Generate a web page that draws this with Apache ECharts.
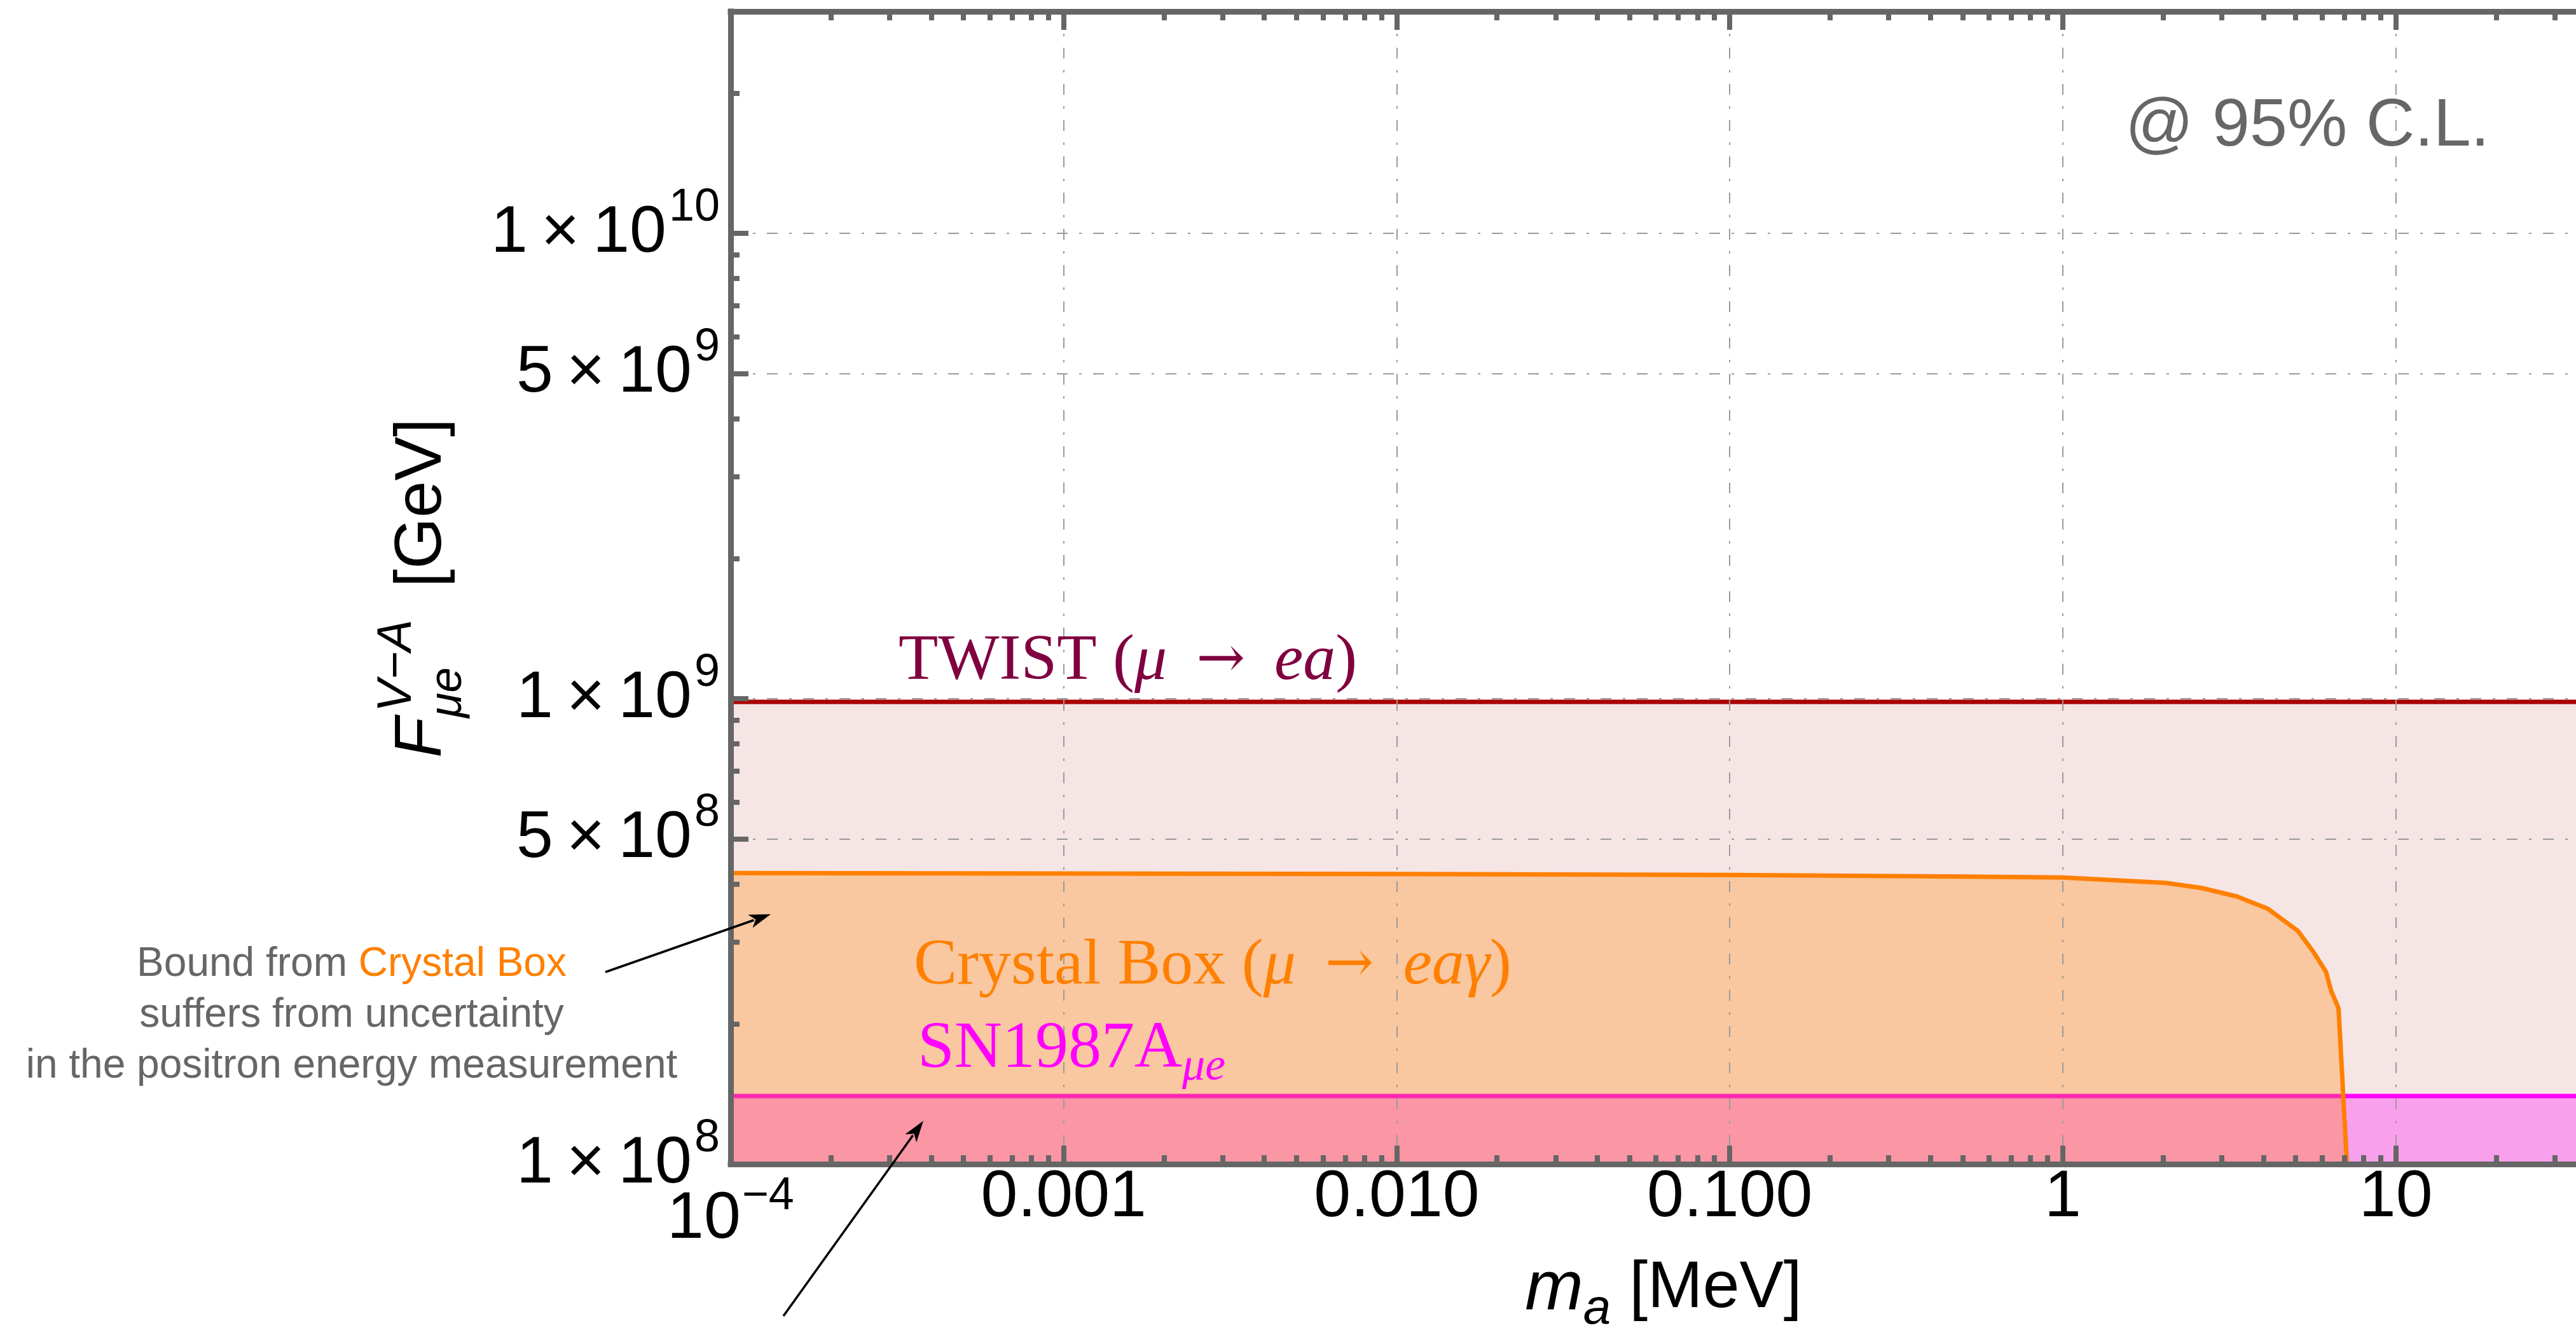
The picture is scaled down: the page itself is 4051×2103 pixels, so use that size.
<!DOCTYPE html>
<html><head><meta charset="utf-8">
<script src="https://cdn.jsdelivr.net/npm/echarts@6/dist/echarts.min.js"></script>
<style>html,body{margin:0;padding:0;background:#fff}#chart{width:4051px;height:2103px}</style>
</head><body><div id="chart"></div>
<script>
// ---------- data ----------
const xMajorTicks = [1e-4, 1e-3, 1e-2, 1e-1, 1, 10];
const xTickBase = ['10', '0.001', '0.010', '0.100', '1', '10'];
const xTickSup = ['\u22124', '', '', '', '', ''];
const xMinorTicks = [2e-4,3e-4,4e-4,5e-4,6e-4,7e-4,8e-4,9e-4,
  2e-3,3e-3,4e-3,5e-3,6e-3,7e-3,8e-3,9e-3,
  2e-2,3e-2,4e-2,5e-2,6e-2,7e-2,8e-2,9e-2,
  0.2,0.3,0.4,0.5,0.6,0.7,0.8,0.9,
  2,3,4,5,6,7,8,9,20,30];
const yMajorTicks = [1e8, 5e8, 1e9, 5e9, 1e10];
const yTickMant = ['1', '5', '1', '5', '1'];
const yTickExp = ['8', '8', '9', '9', '10'];
const yMinorTicks = [2e8,3e8,4e8,6e8,7e8,8e8,9e8,2e9,3e9,4e9,6e9,7e9,8e9,9e9,2e10,3e10];

const massRange = [1e-4, 40];
const twistBound = [9.85e8, 9.85e8];
const sn1987aBound = [1.4e8, 1.4e8];
const crystalBoxMass  = [1e-4, 1e-3, 0.01, 0.1, 0.5, 1, 2.04, 2.61, 3.33, 4.12, 5.08, 5.65, 6.17, 6.39, 6.73, 7.13];
const crystalBoxBound = [4.22e8, 4.21e8, 4.2e8, 4.18e8, 4.15e8, 4.13e8, 4.02e8, 3.92e8, 3.76e8, 3.54e8, 3.17e8, 2.86e8, 2.59e8, 2.36e8, 2.16e8, 1.0e8];

// ---------- helpers ----------
const SANS = '"Liberation Sans", Arial, sans-serif';
const SERIF = '"Liberation Serif", "Times New Roman", serif';
const ARROWF = '"DejaVu Serif", serif';
const AXC = '#666666';
function nearestIdx(arr, v) {
  let best = 0, bd = Infinity;
  arr.forEach((a, i) => { const d = Math.abs(Math.log10(a) - Math.log10(v)); if (d < bd) { bd = d; best = i; } });
  return best;
}
const pairs = (xs, ys) => xs.map((x, i) => [x, ys[i]]);
const gridLine = { show: true, lineStyle: { color: '#9a9a9a', width: 2, type: [17, 18, 4, 18] } };

function arrow(x1, y1, x2, y2) {
  const dx = x2 - x1, dy = y2 - y1, L = Math.hypot(dx, dy), ux = dx / L, uy = dy / L;
  const hl = 34, hw = 11, px = -uy, py = ux;
  const bx = x2 - ux * hl, by = y2 - uy * hl;
  return [
    { type: 'line', z: 50, shape: { x1, y1, x2: bx + ux * 6, y2: by + uy * 6 }, style: { stroke: '#000', lineWidth: 3.5 } },
    { type: 'polygon', z: 50, shape: { points: [[x2, y2], [bx + px * hw, by + py * hw], [bx + ux * 9, by + uy * 9], [bx - px * hw, by - py * hw]] }, style: { fill: '#000' } }
  ];
}
function txt(x, y, text, o) {
  return { type: 'text', z: 50, x, y, style: Object.assign({ text, fontFamily: SANS, fill: '#000', textAlign: 'left', align: 'left', textVerticalAlign: 'top', verticalAlign: 'top' }, o) };
}
function serifRich(col, fs) {
  return {
    r: { fontSize: fs, fontFamily: SERIF, fill: col, color: col },
    i: { fontSize: fs, fontFamily: SERIF, fontStyle: 'italic', fill: col, color: col },
    a: { fontSize: fs * 0.9, fontFamily: ARROWF, fill: col, color: col }
  };
}

const chart = echarts.init(document.getElementById('chart'), null, { renderer: 'canvas' });

const baseLog = { type: 'log', logBase: 10 };
const xCommon = Object.assign({}, baseLog, { min: massRange[0], max: massRange[1] });
const yCommon = Object.assign({}, baseLog, { min: 1e8, max: 3e10 });
const axisLineSt = { show: true, lineStyle: { color: AXC, width: 9, cap: 'square' } };

const option = {
  animation: false,
  backgroundColor: '#ffffff',
  grid: [
    { left: 1149, top: 18, right: -32, bottom: 272, containLabel: false, outerBoundsMode: 'none' },
    { left: 1149, top: 18, right: -32, bottom: 272, containLabel: false, outerBoundsMode: 'none' }
  ],
  xAxis: [
    Object.assign({}, xCommon, {
      gridIndex: 0, position: 'bottom', z: 10,
      axisLine: axisLineSt,
      axisTick: { show: true, inside: true, length: 29, lineStyle: { color: AXC, width: 8 }, customValues: xMajorTicks },
      axisLabel: {
        show: true, margin: 1, customValues: xMajorTicks, color: '#000',
        formatter: v => { const i = nearestIdx(xMajorTicks, v); return xTickSup[i] ? `{bb|${xTickBase[i]}}{s|${xTickSup[i]}}` : `{b|${xTickBase[i]}}`; },
        rich: {
          b: { fontSize: 104, fontFamily: SANS, color: '#000', verticalAlign: 'top' },
          bb: { fontSize: 104, fontFamily: SANS, color: '#000', verticalAlign: 'top', padding: [34, 0, 0, 0] },
          s: { fontSize: 72, fontFamily: SANS, color: '#000', verticalAlign: 'top', padding: [14, 0, 0, 2] }
        }
      },
      splitLine: gridLine,
      name: '{i|m}{a|a}{n| [MeV]}', nameLocation: 'middle', nameGap: 138,
      nameTextStyle: {
        rich: {
          i: { fontSize: 110, fontFamily: SANS, fontStyle: 'italic', color: '#000', verticalAlign: 'top', padding: [0, 0, 14, 0] },
          a: { fontSize: 78, fontFamily: SANS, fontStyle: 'italic', color: '#000', verticalAlign: 'bottom' },
          n: { fontSize: 104, fontFamily: SANS, color: '#000', verticalAlign: 'top', padding: [0, 0, 14, 0] }
        }
      }
    }),
    Object.assign({}, xCommon, {
      gridIndex: 0, position: 'top', z: 10,
      axisLine: axisLineSt,
      axisTick: { show: true, inside: true, length: 29, lineStyle: { color: AXC, width: 8 }, customValues: xMajorTicks },
      axisLabel: { show: false }, splitLine: { show: false }
    }),
    Object.assign({}, xCommon, {
      gridIndex: 1, position: 'bottom', z: 10,
      axisLine: { show: false },
      axisTick: { show: true, inside: true, length: 14, lineStyle: { color: AXC, width: 8 }, customValues: xMinorTicks },
      axisLabel: { show: false }, splitLine: { show: false }
    }),
    Object.assign({}, xCommon, {
      gridIndex: 1, position: 'top', z: 10,
      axisLine: { show: false },
      axisTick: { show: true, inside: true, length: 14, lineStyle: { color: AXC, width: 8 }, customValues: xMinorTicks },
      axisLabel: { show: false }, splitLine: { show: false }
    })
  ],
  yAxis: [
    Object.assign({}, yCommon, {
      gridIndex: 0, position: 'left', z: 10,
      axisLine: axisLineSt,
      axisTick: { show: true, inside: true, length: 28, lineStyle: { color: AXC, width: 8 }, customValues: yMajorTicks },
      axisLabel: {
        show: true, margin: 17, customValues: yMajorTicks, color: '#000',
        formatter: v => { const i = nearestIdx(yMajorTicks, v); return `{b|${yTickMant[i]}\u2009\u00d7\u200910}{s|${yTickExp[i]}}`; },
        rich: {
          b: { fontSize: 104, fontFamily: SANS, color: '#000', verticalAlign: 'top', padding: [24, 0, 24, 0] },
          s: { fontSize: 72, fontFamily: SANS, color: '#000', verticalAlign: 'top', padding: [0, 0, 0, 4] }
        }
      },
      splitLine: gridLine
    }),
    Object.assign({}, yCommon, {
      gridIndex: 1, position: 'left', z: 10,
      axisLine: { show: false },
      axisTick: { show: true, inside: true, length: 14, lineStyle: { color: AXC, width: 8 }, customValues: yMinorTicks },
      axisLabel: { show: false }, splitLine: { show: false }
    })
  ],
  series: [
    {
      name: 'TWIST', type: 'line', xAxisIndex: 0, yAxisIndex: 0, data: pairs(massRange, twistBound),
      showSymbol: false, symbol: 'none', lineStyle: { color: '#aa0000', width: 7 },
      areaStyle: { color: 'rgba(170,0,0,0.1)', opacity: 1, origin: 'start' }, z: 2
    },
    {
      name: 'SN1987A', type: 'line', xAxisIndex: 0, yAxisIndex: 0, data: pairs(massRange, sn1987aBound),
      showSymbol: false, symbol: 'none', lineStyle: { color: '#ff00ff', width: 7 },
      areaStyle: { color: 'rgba(255,0,255,0.3)', opacity: 1, origin: 'start' }, z: 3
    },
    {
      name: 'Crystal Box', type: 'line', xAxisIndex: 0, yAxisIndex: 0, data: pairs(crystalBoxMass, crystalBoxBound),
      showSymbol: false, symbol: 'none', lineStyle: { color: '#ff8000', width: 7 },
      areaStyle: { color: 'rgba(255,128,0,0.3)', opacity: 1, origin: 'start' }, z: 4
    }
  ],
  graphic: [
    txt(3342, 147, '@ 95% C.L.', { fontSize: 106, fill: '#666666' }),
    txt(1413, 990, '{r|TWIST (}{i|\u03bc}{a|\u2002\u2192\u2002}{i|ea}{r|)}', {
      fill: '#800040', rich: serifRich('#800040', 102)
    }),
    txt(1437, 1469, '{r|Crystal Box (}{i|\u03bc}{a|\u2002\u2192\u2002}{i|ea\u03b3}{r|)}', {
      fill: '#ff8000', rich: serifRich('#ff8000', 102)
    }),
    txt(1443, 1599, '{r|SN1987A}{s|\u03bce}', {
      fill: '#ff00ff',
      rich: {
        r: { fontSize: 104, fontFamily: SERIF, fill: '#ff00ff', color: '#ff00ff', verticalAlign: 'top', padding: [0, 0, 12, 0] },
        s: { fontSize: 72, fontFamily: SERIF, fontStyle: 'italic', fill: '#ff00ff', color: '#ff00ff', verticalAlign: 'bottom' }
      }
    }),
    {
      type: 'text', z: 50, x: 553, y: 1477,
      style: {
        text: '{g|Bound from }{o|Crystal Box}\n{g|suffers from uncertainty}\n{g|in the positron energy measurement}',
        textAlign: 'center', align: 'center', textVerticalAlign: 'top', verticalAlign: 'top',
        fontSize: 64, fontFamily: SANS, fill: '#666666', lineHeight: 80,
        rich: {
          g: { fontSize: 64, fontFamily: SANS, fill: '#666666', color: '#666666', lineHeight: 80 },
          o: { fontSize: 64, fontFamily: SANS, fill: '#ff8000', color: '#ff8000', lineHeight: 80 }
        }
      }
    },
    {
      type: 'group', x: 700, y: 924, rotation: Math.PI / 2, z: 50,
      children: [
        txt(-268, -88, 'F', { fontSize: 104, fontStyle: 'italic' }),
        txt(-196, -113, 'V\u2212A', { fontSize: 76, fontStyle: 'italic' }),
        txt(-205, -31, '\u03bce', { fontSize: 72, fontStyle: 'italic' }),
        txt(0, -88, '[GeV]', { fontSize: 104 })
      ]
    },
    ...arrow(952, 1529, 1212, 1438),
    ...arrow(1232, 2070, 1452, 1763)
  ]
};
chart.setOption(option);
</script>
</body></html>
